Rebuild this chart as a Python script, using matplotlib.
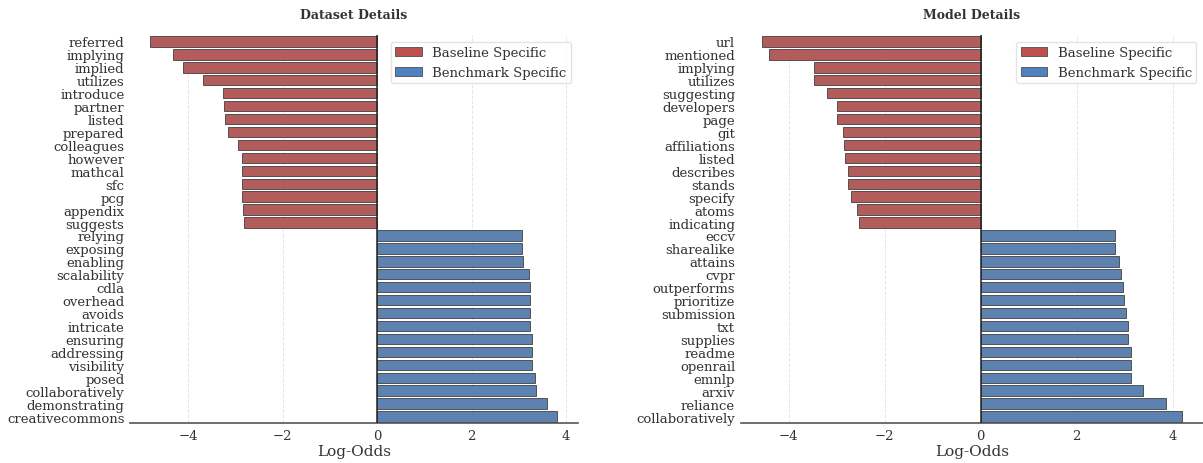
import matplotlib
matplotlib.use('Agg')
from matplotlib import pyplot as plt
from matplotlib.patches import Patch
import numpy as np

# log-odds of the most distinctive words per section
dataset_words = ['referred', 'implying', 'implied', 'utilizes', 'introduce', 'partner',
                 'listed', 'prepared', 'colleagues', 'however', 'mathcal', 'sfc', 'pcg',
                 'appendix', 'suggests', 'relying', 'exposing', 'enabling', 'scalability',
                 'cdla', 'overhead', 'avoids', 'intricate', 'ensuring', 'addressing',
                 'visibility', 'posed', 'collaboratively', 'demonstrating', 'creativecommons']
dataset_scores = [-4.80, -4.33, -4.11, -3.69, -3.26, -3.25, -3.21, -3.16, -2.94, -2.87,
                  -2.87, -2.87, -2.87, -2.83, -2.81, 3.07, 3.07, 3.09, 3.21, 3.24,
                  3.24, 3.24, 3.24, 3.28, 3.28, 3.28, 3.34, 3.37, 3.59, 3.82]

model_words = ['url', 'mentioned', 'implying', 'utilizes', 'suggesting', 'developers',
               'page', 'git', 'affiliations', 'listed', 'describes', 'stands', 'specify',
               'atoms', 'indicating', 'eccv', 'sharealike', 'attains', 'cvpr', 'outperforms',
               'prioritize', 'submission', 'txt', 'supplies', 'readme', 'openrail', 'emnlp',
               'arxiv', 'reliance', 'collaboratively']
model_scores = [-4.56, -4.40, -3.47, -3.47, -3.20, -3.00, -2.99, -2.87, -2.84, -2.82,
                -2.76, -2.76, -2.70, -2.57, -2.53, 2.80, 2.80, 2.88, 2.92, 2.96,
                2.98, 3.02, 3.06, 3.06, 3.13, 3.13, 3.13, 3.38, 3.86, 4.19]

panel_titles = ['Dataset Details', 'Model Details']
legend_labels = ['Baseline Specific', 'Benchmark Specific']

RED, BLUE = '#C0504D', '#4F81BD'
RED_BAR, BLUE_BAR = '#b25d5b', '#5d82af'
TEXT = '#333333'

plt.rcParams['font.family'] = ['DejaVu Serif']
plt.rcParams['text.color'] = TEXT
plt.rcParams['axes.labelcolor'] = TEXT
plt.rcParams['xtick.color'] = TEXT
plt.rcParams['ytick.color'] = TEXT


def draw_panel(ax, words, scores, title):
    scores = np.array(scores)
    pos = np.arange(len(words))
    colors = [RED_BAR if s < 0 else BLUE_BAR for s in scores]
    ax.barh(pos, scores, height=0.8, color=colors, edgecolor='0.25', linewidth=0.6, zorder=2)
    ax.set_ylim(len(words) - 0.5, -0.5)
    ax.set_yticks(pos)
    ax.set_yticklabels(words, fontsize=9.5)
    ax.axvline(0, color='#222222', linewidth=1.1, zorder=3)
    ax.set_xticks([-4, -2, 0, 2, 4])
    ax.set_xticklabels(['\u22124', '\u22122', '0', '2', '4'], fontsize=9.5)
    ax.tick_params(axis='both', length=0, pad=4)
    ax.grid(axis='x', linestyle='--', color='#e6e6e6', linewidth=0.7, zorder=0)
    ax.set_axisbelow(True)
    for side in ['top', 'right', 'left']:
        ax.spines[side].set_visible(False)
    ax.spines['bottom'].set_color('#555555')
    ax.spines['bottom'].set_linewidth(1.2)
    ax.set_xlabel('Log-Odds', fontsize=11, labelpad=2)
    ax.set_title(title, fontsize=9, fontweight='bold', pad=12)
    handles = [Patch(facecolor=RED, edgecolor='0.3', linewidth=0.6),
               Patch(facecolor=BLUE, edgecolor='0.3', linewidth=0.6)]
    ax.legend(handles, legend_labels, loc='upper right', fontsize=9.5, frameon=True,
              edgecolor='#dddddd', fancybox=True, borderpad=0.35,
              bbox_to_anchor=(1.0, 1.0), borderaxespad=0.5)


fig = plt.figure(figsize=(12.03, 4.64), dpi=100)
ax1 = fig.add_axes([0.1081, 0.0862, 0.3722, 0.8362])
ax2 = fig.add_axes([0.6157, 0.0862, 0.3843, 0.8362])
draw_panel(ax1, dataset_words, dataset_scores, panel_titles[0])
draw_panel(ax2, model_words, model_scores, panel_titles[1])
fig.savefig('out.png', dpi=100)
